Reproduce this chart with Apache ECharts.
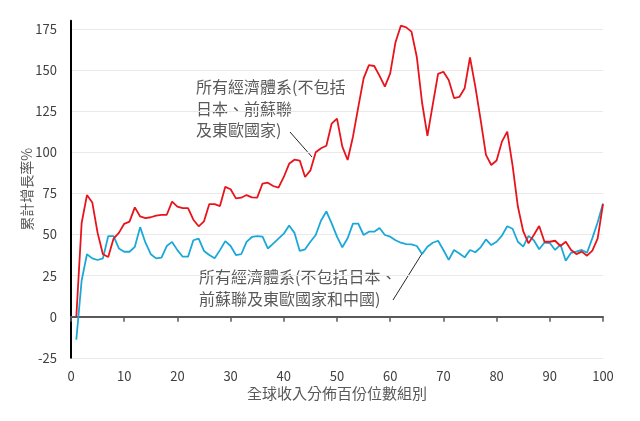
<!DOCTYPE html>
<html><head><meta charset="utf-8">
<script src="https://cdn.jsdelivr.net/npm/echarts@6/dist/echarts.min.js"></script>
<style>html,body{margin:0;padding:0;background:#fff}#c{width:640px;height:421px}</style>
</head><body><div id="c"></div>
<script>
var percentiles = [1,2,3,4,5,6,7,8,9,10,11,12,13,14,15,16,17,18,19,20,
  21,22,23,24,25,26,27,28,29,30,31,32,33,34,35,36,37,38,39,40,
  41,42,43,44,45,46,47,48,49,50,51,52,53,54,55,56,57,58,59,60,
  61,62,63,64,65,66,67,68,69,70,71,72,73,74,75,76,77,78,79,80,
  81,82,83,84,85,86,87,88,89,90,91,92,93,94,95,96,97,98,99,100];

// 所有經濟體系(不包括日本、前蘇聯及東歐國家)
var exJapanUSSR = [0,57,74,69.5,51,38,36.3,47.5,51,56.5,
  57.8,66.5,61,60,60.5,61.5,62,62,70,67,
  66,66,59,55,58,68.5,68.5,67.3,79,77.5,
  72,72.4,74,72.6,72.4,81,81.5,79.5,78.5,85,
  93,95.5,95,85,89,100,102.5,104,117.5,120.5,
  103.5,95.3,109.5,127.5,145,153,152.5,146.5,140,148,
  167,177,176,173.4,158,130,110,129,147.7,149,
  144,133,133.7,139,157.8,140,119.7,98.4,92.3,95,
  106.5,112.6,92,67,52,44.6,49.7,55.2,45.6,45.6,
  46.2,43,45.6,40.6,38.1,39.6,37.1,40.2,47.7,68.5];

// 所有經濟體系(不包括日本、前蘇聯及東歐國家和中國)
var exJapanUSSRChina = [-14,22,38,35.5,34.5,35.5,49,49,41.5,39.5,
  39.5,42.5,54.5,45,38,35.5,36,43,45.5,40.5,
  36.5,36.5,46.5,47.5,40,37.5,35.5,40.5,46,43,
  37.5,38,45.5,48.5,49,48.7,41.5,44.5,47.5,50.5,
  55.5,51,40,41,45.6,49.7,58.5,64,56.8,48.7,
  42.2,47.7,56.6,56.6,49.7,51.7,51.7,54,49.7,48.7,
  46.5,45,44.2,44,43,38.1,42.6,45,46.2,40.6,
  34.6,40.6,38.5,36.1,40.6,39.2,42.2,47,43.6,45.6,
  49.3,55,53.5,45.6,42.6,49.2,46.5,41,45.1,44.8,
  40.6,43.9,34,38.9,39.6,40.6,38.9,47.8,57.5,68.8];

var xName = '全球收入分佈百份位數組別';
var yName = '累計增長率%';
var redNote = ['所有經濟體系(不包括', '日本、前蘇聯', '及東歐國家)'];
var blueNote = ['所有經濟體系(不包括日本、', '前蘇聯及東歐國家和中國)'];

function pairs(xs, ys){ var out=[]; for(var i=0;i<xs.length;i++){ out.push([xs[i], ys[i]]); } return out; }

var FONT = '"Noto Sans CJK TC", "Noto Sans", sans-serif';
var chart = echarts.init(document.getElementById('c'), null, {renderer:'canvas'});
var option = {
  animation:false,
  textStyle:{fontFamily:FONT},
  grid:{left:71,right:37,top:20.8,bottom:63.2},
  xAxis:[{type:'value',min:0,max:100,interval:10,position:'bottom',
     axisLine:{show:false,onZero:false}, axisTick:{show:false}, splitLine:{show:false},
     axisLabel:{color:'#404040',fontSize:13,margin:12,fontFamily:FONT},
     name:xName, nameLocation:'middle', nameGap:28, nameMoveOverlap:false,
     nameTextStyle:{color:'#595959',fontSize:15,fontFamily:FONT}},
    {type:'value',min:0,max:100,interval:10,position:'bottom',
     axisLine:{show:true,onZero:true,lineStyle:{color:'#595959',width:2}},
     axisTick:{show:true,length:5,lineStyle:{color:'#595959',width:1.5}},
     axisLabel:{show:false}, splitLine:{show:false}}],
  yAxis:{type:'value',min:-25,max:180,interval:25,
     axisLine:{show:true,onZero:false,lineStyle:{color:'#000',width:2}}, axisTick:{show:false},
     axisLabel:{color:'#404040',fontSize:13,margin:14,showMaxLabel:false,fontFamily:FONT},
     splitLine:{show:true,showMaxLine:false,lineStyle:{color:'#e9e9e9',width:1}},
     name:yName,nameLocation:'middle',nameGap:37,nameRotate:90,nameMoveOverlap:false,
     nameTextStyle:{color:'#595959',fontSize:14,fontFamily:FONT}},
  series:[
    {type:'line',name:blueNote.join(''),xAxisIndex:0,data:pairs(percentiles, exJapanUSSRChina),
     symbol:'none',lineStyle:{color:'#1BA8D9',width:1.8},itemStyle:{color:'#1BA8D9'},z:3},
    {type:'line',name:redNote.join(''),xAxisIndex:0,data:pairs(percentiles, exJapanUSSR),
     symbol:'none',lineStyle:{color:'#E8141C',width:1.8},itemStyle:{color:'#E8141C'},z:4}
  ],
  graphic:[
    {type:'text',left:196,top:79,style:{text:redNote[0],font:'16px '+FONT,fill:'#595959'}},
    {type:'text',left:196,top:101,style:{text:redNote[1],font:'16px '+FONT,fill:'#595959'}},
    {type:'text',left:196,top:122,style:{text:redNote[2],font:'16px '+FONT,fill:'#595959'}},
    {type:'line',shape:{x1:290,y1:132,x2:312,y2:157},style:{stroke:'#262626',lineWidth:1}},
    {type:'text',left:199,top:269,style:{text:blueNote[0],font:'16px '+FONT,fill:'#595959'}},
    {type:'text',left:199,top:291,style:{text:blueNote[1],font:'16px '+FONT,fill:'#595959'}},
    {type:'line',shape:{x1:393,y1:300,x2:423,y2:252},style:{stroke:'#262626',lineWidth:1}}
  ]
};
chart.setOption(option);
</script></body></html>
